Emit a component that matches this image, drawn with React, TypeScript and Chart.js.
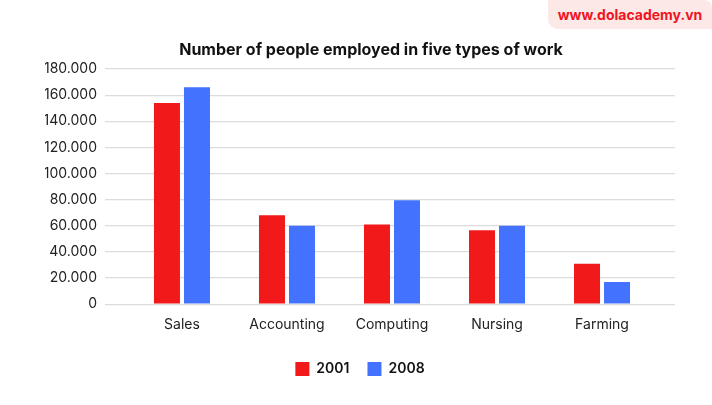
import React, { useEffect, useRef } from "react";
import { Chart, registerables } from "chart.js";

Chart.register(...registerables);

const title = "Number of people employed in five types of work";
const categories = ["Sales", "Accounting", "Computing", "Nursing", "Farming"];
const series2001 = [154000, 68000, 61000, 56500, 31000];
const series2008 = [166000, 60000, 79500, 60000, 17000];
const yTicks = [0, 20000, 40000, 60000, 80000, 100000, 120000, 140000, 160000, 180000];

const fmt = (v: number) => String(v).replace(/\B(?=(\d{3})+(?!\d))/g, ".");

const PAD_LEFT = 45;
const AXIS_RIGHT = 105;

export default function App() {
  const ref = useRef<HTMLCanvasElement | null>(null);
  useEffect(() => {
    document.body.style.margin = "0";
    if (!ref.current) return;
    const chart = new Chart(ref.current, {
      type: "bar",
      data: {
        datasets: [
          {
            label: "2001",
            data: categories.map((_, i) => ({ x: i + 1, y: series2001[i] })),
            backgroundColor: "#F2191B",
            categoryPercentage: 0.5714,
            barPercentage: 0.8667,
          },
          {
            label: "2008",
            data: categories.map((_, i) => ({ x: i + 1, y: series2008[i] })),
            backgroundColor: "#4272FE",
            categoryPercentage: 0.5714,
            barPercentage: 0.8667,
          },
        ],
      },
      options: {
        animation: false,
        responsive: false,
        maintainAspectRatio: false,
        layout: { padding: { left: PAD_LEFT, right: 37, top: 69, bottom: 19 } },
        plugins: {
          title: { display: false },
          legend: {
            position: "bottom",
            labels: {
              boxWidth: 14,
              boxHeight: 14,
              padding: 18,
              color: "#111",
              font: { family: "Inter", size: 14, weight: "600" },
            },
          },
          tooltip: { enabled: false },
        },
        scales: {
          x: {
            type: "linear",
            offset: false,
            min: 0.267,
            max: 5.695,
            afterBuildTicks: (axis: any) => {
              axis.ticks = categories.map((_, i) => ({ value: i + 1 }));
            },
            afterFit: (axis: any) => {
              axis.height += 7;
            },
            ticks: {
              callback: (v: any) => categories[Number(v) - 1] ?? "",
              color: "#222",
              font: { family: "Inter", size: 14 },
              padding: 4,
              autoSkip: false,
              maxRotation: 0,
            },
            grid: { display: false },
            border: { display: false },
          },
          y: {
            min: 0,
            max: 180000,
            afterBuildTicks: (axis: any) => {
              axis.ticks = yTicks.map((v) => ({ value: v }));
            },
            afterFit: (axis: any) => {
              axis.width = AXIS_RIGHT - PAD_LEFT;
            },
            ticks: {
              callback: (v: any) => fmt(Number(v)),
              color: "#222",
              font: { family: "Inter", size: 14 },
              padding: 8,
            },
            grid: { color: "#dcdcdc", lineWidth: 1.2, drawTicks: false },
            border: { display: false },
          },
        },
      },
    });
    return () => chart.destroy();
  }, []);
  return (
    <div style={{ position: "fixed", left: 0, top: 0, width: 712, height: 405, background: "#fff", overflow: "hidden" }}>
      <canvas ref={ref} width={712} height={405} style={{ width: 712, height: 405, display: "block" }} />
      <div
        style={{
          position: "absolute",
          left: 0,
          top: 39,
          width: 742,
          textAlign: "center",
          color: "#111",
          fontFamily: "Inter",
          fontWeight: 700,
          fontSize: 16,
          lineHeight: "20px",
        }}
      >
        {title}
      </div>
      <div
        style={{
          position: "absolute",
          left: 548,
          top: 0,
          width: 164,
          height: 29,
          background: "#FDE8E8",
          borderRadius: "0 8px 0 10px",
          display: "flex",
          alignItems: "center",
          justifyContent: "center",
          color: "#F0141E",
          fontFamily: "Inter",
          fontWeight: 700,
          fontSize: 14,
        }}
      >
        www.dolacademy.vn
      </div>
    </div>
  );
}
